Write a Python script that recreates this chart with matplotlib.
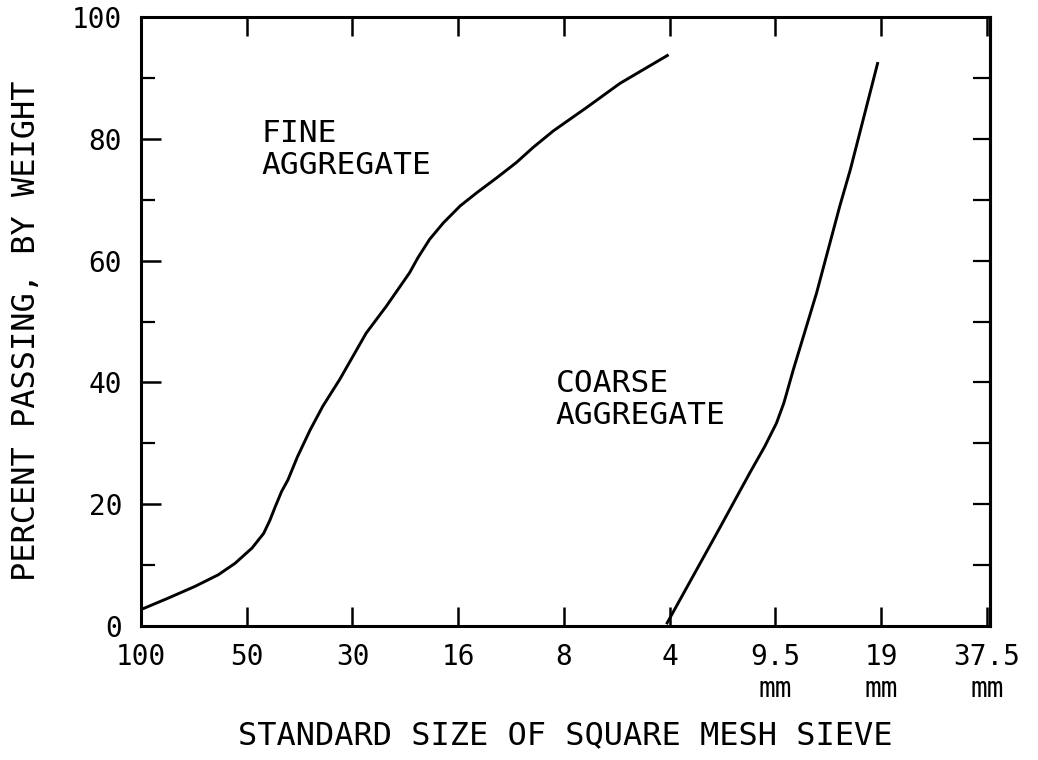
import matplotlib
matplotlib.use("Agg")
import matplotlib.pyplot as plt
from matplotlib.ticker import MultipleLocator

# ---- data (x = position on the equally spaced sieve scale, index of sieve_labels) ----
sieve_labels = ["100", "50", "30", "16", "8", "4", "9.5\nmm", "19\nmm", "37.5\nmm"]
y_major = [0, 20, 40, 60, 80, 100]

fine_x = [0.0, 0.26, 0.51, 0.73, 0.89, 1.05, 1.16, 1.22, 1.27, 1.33, 1.39, 1.48,
          1.60, 1.72, 1.88, 2.13, 2.32, 2.54, 2.62, 2.73, 2.86, 3.02, 3.18,
          3.365, 3.55, 3.71, 3.90, 4.22, 4.53, 4.99]
fine_y = [2.7, 4.6, 6.5, 8.4, 10.3, 12.8, 15.2, 17.4, 19.6, 22.1, 24.0, 27.8,
          32.2, 36.1, 40.5, 48.1, 52.5, 58.0, 60.5, 63.5, 66.2, 69.0, 71.2,
          73.6, 76.1, 78.6, 81.3, 85.2, 89.1, 93.8]

coarse_x = [4.97, 5.48, 5.76, 5.90, 6.01, 6.08, 6.17, 6.39, 6.61, 6.71, 6.97]
coarse_y = [0.3, 16.3, 25.2, 29.5, 33.3, 36.6, 42.1, 54.7, 69.0, 75.0, 92.6]

labels = ["FINE\nAGGREGATE", "COARSE\nAGGREGATE"]
label_pos = [(1.14, 74.2), (3.92, 33.2)]

FONT = "DejaVu Sans Mono"
plt.rcParams["font.family"] = [FONT, "DejaVu Sans"]

fig = plt.figure(figsize=(10.38, 7.60), dpi=100)
ax = fig.add_axes([141 / 1038, 1 - 626 / 760, (990 - 141) / 1038, (626 - 17) / 760])

ax.plot(fine_x, fine_y, color="black", lw=2.1, solid_capstyle="butt",
        solid_joinstyle="round")
ax.plot(coarse_x, coarse_y, color="black", lw=2.1, solid_capstyle="butt",
        solid_joinstyle="round")

for txt, (x, y) in zip(labels, label_pos):
    ax.text(x, y, txt, fontsize=22.5, ha="left", va="baseline",
            linespacing=1.13, color="black")

ax.set_xlim(0, 8.03)
ax.set_ylim(0, 100)

ax.set_xticks(range(len(sieve_labels)))
ax.set_xticklabels(sieve_labels, fontsize=20, linespacing=1.2)
ax.set_yticks(y_major)
ax.set_yticklabels([str(v) for v in y_major], fontsize=20)
ax.yaxis.set_minor_locator(MultipleLocator(10))

for s in ax.spines.values():
    s.set_linewidth(2.2)

ax.tick_params(axis="x", which="major", direction="in", top=True, bottom=True,
               length=14, width=1.8, pad=12)
ax.tick_params(axis="y", which="major", direction="in", left=True, right=False,
               length=14.5, width=1.8, pad=13.5)
ax.tick_params(axis="y", which="minor", direction="in", left=True, right=False,
               length=10, width=1.6)

sec = ax.secondary_yaxis("right")
sec.set_yticks(list(range(10, 100, 10)))
sec.tick_params(axis="y", which="major", direction="in", length=12.5, width=1.6,
                labelright=False)
sec.spines["right"].set_linewidth(2.2)

ax.set_xlabel("STANDARD SIZE OF SQUARE MESH SIEVE", fontsize=23)
ax.xaxis.set_label_coords(0.5, (626 - 736) / 609)
ax.xaxis.label.set_va("center")
ax.set_ylabel("PERCENT PASSING, BY WEIGHT", fontsize=23)
ax.yaxis.set_label_coords((27 - 141) / 849, 0.485)
ax.yaxis.label.set_va("center")

fig.savefig("out.png", dpi=100, facecolor="white")
